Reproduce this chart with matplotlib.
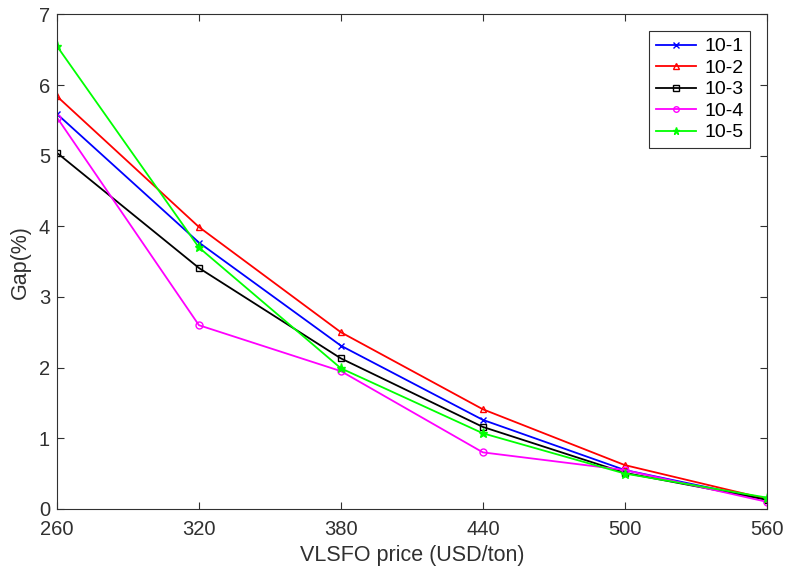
import matplotlib.pyplot as plt
import numpy as np

price = [260, 320, 380, 440, 500, 560]
labels = ["10-1", "10-2", "10-3", "10-4", "10-5"]
gap_10_1 = [5.59, 3.77, 2.31, 1.26, 0.55, 0.13]
gap_10_2 = [5.84, 3.99, 2.50, 1.41, 0.62, 0.14]
gap_10_3 = [5.04, 3.41, 2.13, 1.16, 0.51, 0.13]
gap_10_4 = [5.54, 2.60, 1.95, 0.80, 0.55, 0.10]
gap_10_5 = [6.55, 3.70, 1.99, 1.07, 0.50, 0.16]

plt.rcParams["font.family"] = ["Liberation Sans", "DejaVu Sans"]

fig = plt.figure(figsize=(7.86, 5.75), dpi=100)
ax = fig.add_axes([0.0725, 0.115, 0.903, 0.86])

series = [gap_10_1, gap_10_2, gap_10_3, gap_10_4, gap_10_5]
colors = ["#0000ff", "#ff0000", "#000000", "#ff00ff", "#00ff00"]
markers = ["x", "^", "s", "o", "*"]
for vals, lab, c, m in zip(series, labels, colors, markers):
    ax.plot(price, vals, color=c, marker=m, markersize=5 if m != "*" else 6.5,
            markerfacecolor="none" if m in "^so" else c, lw=1.3, label=lab)

ax.set_xlim(260, 560)
ax.set_ylim(0, 7)
ax.set_xticks(price)
ax.set_yticks(range(0, 8))
ax.tick_params(direction="in", top=True, right=True, labelsize=14.5,
               colors="#303030", length=5)
ax.tick_params(axis="x", pad=8)
ax.tick_params(axis="y", pad=5)
for s in ax.spines.values():
    s.set_color("#303030")
    s.set_linewidth(0.8)
ax.set_xlabel("VLSFO price (USD/ton)", fontsize=15.5, color="#303030", labelpad=4)
ax.set_ylabel("Gap(%)", fontsize=15.5, color="#303030", labelpad=6)

leg = ax.legend(loc="upper right", fontsize=14, fancybox=False, framealpha=1,
                edgecolor="#303030", handlelength=2.1, borderaxespad=0.85,
                labelspacing=0.2, handletextpad=0.4, borderpad=0.35,
                markerscale=0.8)
leg.get_frame().set_linewidth(0.8)

fig.savefig("out.png", dpi=100)
